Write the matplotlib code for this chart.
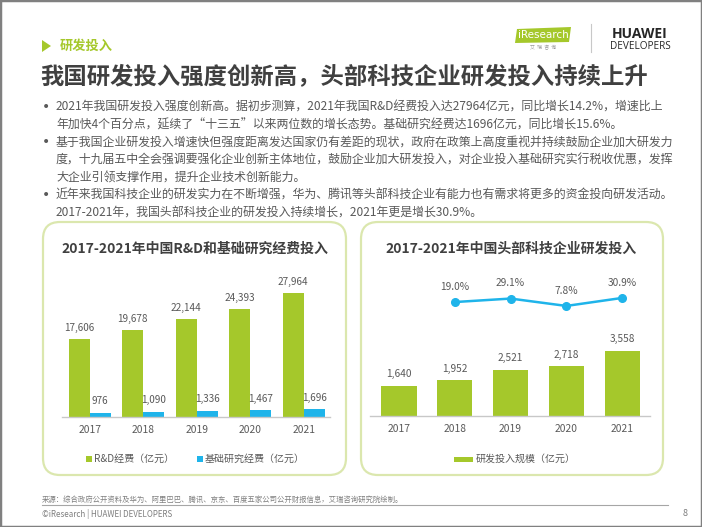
import matplotlib
matplotlib.use("Agg")
import matplotlib.pyplot as plt
from matplotlib.patches import FancyBboxPatch, Rectangle, Polygon
from matplotlib.lines import Line2D

plt.rcParams['font.family'] = ['Noto Sans CJK SC', 'DejaVu Sans']

# ---------------- data ----------------
years = ['2017', '2018', '2019', '2020', '2021']
rd_spend = [17606, 19678, 22144, 24393, 27964]          # R&D经费（亿元）
basic_spend = [976, 1090, 1336, 1467, 1696]             # 基础研究经费（亿元）
top_spend = [1640, 1952, 2521, 2718, 3558]              # 研发投入规模（亿元）
growth_years = ['2018', '2019', '2020', '2021']
growth_pct = [19.0, 29.1, 7.8, 30.9]                    # 增速 %

section_label = '研发投入'
main_title = '我国研发投入强度创新高，头部科技企业研发投入持续上升'
bullets = [
    ['2021年我国研发投入强度创新高。据初步测算，2021年我国R&D经费投入达27964亿元，同比增长14.2%，增速比上',
     '年加快4个百分点，延续了“十三五”以来两位数的增长态势。基础研究经费达1696亿元，同比增长15.6%。'],
    ['基于我国企业研发投入增速快但强度距离发达国家仍有差距的现状，政府在政策上高度重视并持续鼓励企业加大研发力',
     '度，十九届五中全会强调要强化企业创新主体地位，鼓励企业加大研发投入，对企业投入基础研究实行税收优惠，发挥',
     '大企业引领支撑作用，提升企业技术创新能力。'],
    ['近年来我国科技企业的研发实力在不断增强，华为、腾讯等头部科技企业有能力也有需求将更多的资金投向研发活动。',
     '2017-2021年，我国头部科技企业的研发投入持续增长，2021年更是增长30.9%。'],
]
left_title = '2017-2021年中国R&D和基础研究经费投入'
right_title = '2017-2021年中国头部科技企业研发投入'
left_legend = ['R&D经费（亿元）', '基础研究经费（亿元）']
right_legend = '研发投入规模（亿元）'
source_text = '来源：综合政府公开资料及华为、阿里巴巴、腾讯、京东、百度五家公司公开财报信息，艾瑞咨询研究院绘制。'
footer_text = '©iResearch | HUAWEI DEVELOPERS'
page_no = '8'

# ---------------- style ----------------
GREEN = '#a5c82b'
BLUE = '#1fb4ea'
TXT = '#595959'
DARK = '#404040'
PANEL = '#dbe7ae'

W, H = 702, 527
fig = plt.figure(figsize=(W / 100, H / 100), dpi=100)
fig.patch.set_facecolor('white')


def fx(x):
    return x / W


def fy(y):
    return 1 - y / H


def inch_box(x0, y0, x1, y1):
    return x0 / 100, (H - y1) / 100, (x1 - x0) / 100, (y1 - y0) / 100


# outer frame
fig.add_artist(Rectangle((0, 0), 1, 1, transform=fig.transFigure, fill=False,
                         edgecolor='#808080', linewidth=2.5))

# section label
fig.add_artist(Polygon([[fx(42), fy(40)], [fx(42), fy(52)], [fx(51), fy(46)]],
                       closed=True, transform=fig.transFigure, color=GREEN, lw=0))
fig.text(fx(60), fy(46), section_label, fontsize=9.5, color=GREEN, fontweight='bold',
         va='center', ha='left')

# logos
fig.add_artist(Polygon([[fx(517), fy(29)], [fx(571), fy(27)], [fx(569), fy(42)], [fx(515), fy(43)]],
                       closed=True, transform=fig.transFigure, color=GREEN, lw=0))
fig.text(fx(543), fy(35.5), 'iResearch', fontsize=7.5, color='white', ha='center', va='center',
         family=['Liberation Sans Narrow', 'DejaVu Sans'])
fig.text(fx(543), fy(48), '艾  瑞  咨  询', fontsize=3.5, color='#999999', ha='center', va='center')
fig.add_artist(Line2D([fx(591), fx(591)], [fy(24), fy(52)], transform=fig.transFigure,
                      color='#c8c8c8', lw=0.8))
fig.text(fx(640), fy(34), 'HUAWEI', fontsize=10, color='#262626', ha='center', va='center',
         fontweight='bold', family=['Open Sans', 'DejaVu Sans'])
fig.text(fx(640), fy(46.5), 'DEVELOPERS', fontsize=7.2, color='#262626', ha='center', va='center',
         family=['Open Sans', 'DejaVu Sans'])

# main title
fig.text(fx(40), fy(76), main_title, fontsize=16.8, fontweight='bold', color=DARK,
         ha='left', va='center')

# bullets
line_y = 107
step = 17.7
for para in bullets:
    fig.text(fx(46), fy(line_y), '•', fontsize=10, color=TXT, ha='center', va='center',
             family=['DejaVu Sans'])
    for ln in para:
        fig.text(fx(56), fy(line_y), ln, fontsize=8.6, color=TXT, ha='left', va='center')
        line_y += step

# panels (behind the axes)
for (x0, x1) in [(43, 346), (361, 663)]:
    bx, by, bw_, bh = inch_box(x0, 222, x1, 475)
    fig.add_artist(FancyBboxPatch((bx, by), bw_, bh,
                                  boxstyle='round,pad=0,rounding_size=0.17',
                                  transform=fig.dpi_scale_trans, facecolor='white',
                                  edgecolor=PANEL, linewidth=1.6, zorder=-5))

fig.text(fx(195), fy(249), left_title, fontsize=10, fontweight='bold', color=DARK,
         ha='center', va='center')
fig.text(fx(511), fy(249), right_title, fontsize=10, fontweight='bold', color=DARK,
         ha='center', va='center')

# ---------------- left chart ----------------
axL = fig.add_axes([fx(62), fy(417), (330 - 62) / W, (417 - 275) / H])
xs = list(range(len(years)))
bw = 0.39
rd_pos = [x - bw / 2 for x in xs]
bs_pos = [x + bw / 2 for x in xs]
b1 = axL.bar(rd_pos, rd_spend, width=bw, color=GREEN, linewidth=0)
b2 = axL.bar(bs_pos, basic_spend, width=bw, color=BLUE, linewidth=0)
axL.set_xlim(-0.52, 4.49)
axL.set_ylim(0, 32000)
for rect, v in zip(b1, rd_spend):
    axL.annotate(f'{v:,}', (rect.get_x() + rect.get_width() / 2, v), xytext=(0, 8),
                 textcoords='offset points', ha='center', va='center', fontsize=7.2, color=TXT)
for rect, v in zip(b2, basic_spend):
    axL.annotate(f'{v:,}', (rect.get_x() + rect.get_width() / 2, v), xytext=(0, 8.5),
                 textcoords='offset points', ha='center', va='center', fontsize=7.2, color=TXT)
axL.set_xticks(xs)
axL.set_xticklabels(years, fontsize=7.4, color=TXT)
axL.tick_params(axis='x', length=0, pad=6)
axL.set_yticks([])
for s in ['top', 'right', 'left']:
    axL.spines[s].set_visible(False)
axL.spines['bottom'].set_color('#c8c8c8')
axL.spines['bottom'].set_linewidth(1)
axL.patch.set_alpha(0)

# left legend
for (mx, col, lab) in [(86, GREEN, left_legend[0]), (197, BLUE, left_legend[1])]:
    lx, ly, lw_, lh = inch_box(mx, 456, mx + 6, 462)
    fig.add_artist(Rectangle((lx, ly), lw_, lh, transform=fig.dpi_scale_trans,
                             color=col, lw=0))
    fig.text(fx(mx + 8), fy(459), lab, fontsize=7.2, color=TXT, ha='left', va='center')

# ---------------- right chart ----------------
axR = fig.add_axes([fx(370), fy(416), (650 - 370) / W, (416 - 265) / H])
bwr = 0.63
b3 = axR.bar(xs, top_spend, width=bwr, color=GREEN, linewidth=0)
axR.set_xlim(-0.52, 4.5)
axR.set_ylim(0, 8260)
for rect, v in zip(b3, top_spend):
    axR.annotate(f'{v:,}', (rect.get_x() + rect.get_width() / 2, v), xytext=(0, 8.5),
                 textcoords='offset points', ha='center', va='center', fontsize=7.3, color=TXT)
axR.set_xticks(xs)
axR.set_xticklabels(years, fontsize=7.4, color=TXT)
axR.tick_params(axis='x', length=0, pad=6)
axR.set_yticks([])
for s in ['top', 'right', 'left']:
    axR.spines[s].set_visible(False)
axR.spines['bottom'].set_color('#c8c8c8')
axR.spines['bottom'].set_linewidth(1)
axR.patch.set_alpha(0)

axT = axR.twinx()
gx = [years.index(y) for y in growth_years]
axT.plot(gx, growth_pct, color=BLUE, lw=1.8, marker='o', markersize=5.5,
         markerfacecolor=BLUE, markeredgecolor=BLUE)
axT.set_ylim(-310, 126)
for x, v in zip(gx, growth_pct):
    axT.annotate(f'{v:.1f}%', (x, v), xytext=(0, 11), textcoords='offset points',
                 ha='center', va='center', fontsize=7.3, color=TXT)
axT.set_yticks([])
for s in axT.spines.values():
    s.set_visible(False)
axT.patch.set_alpha(0)

# right legend
lx, ly, lw_, lh = inch_box(454, 457, 473, 461.5)
fig.add_artist(Rectangle((lx, ly), lw_, lh, transform=fig.dpi_scale_trans, color=GREEN, lw=0))
fig.text(fx(476), fy(459), right_legend, fontsize=7.2, color=TXT, ha='left', va='center')

# footer
fig.text(fx(42), fy(500), source_text, fontsize=5.3, color='#7f7f7f', ha='left', va='center')
fig.add_artist(Line2D([fx(42), fx(668)], [fy(505), fy(505)], transform=fig.transFigure,
                      color='#a6a6a6', lw=0.8))
fig.text(fx(42), fy(514), footer_text, fontsize=5.8, color='#7f7f7f', ha='left', va='center')
fig.text(fx(685), fy(514), page_no, fontsize=6.5, color='#7f7f7f', ha='center', va='center')

fig.savefig('out.png', dpi=100)
